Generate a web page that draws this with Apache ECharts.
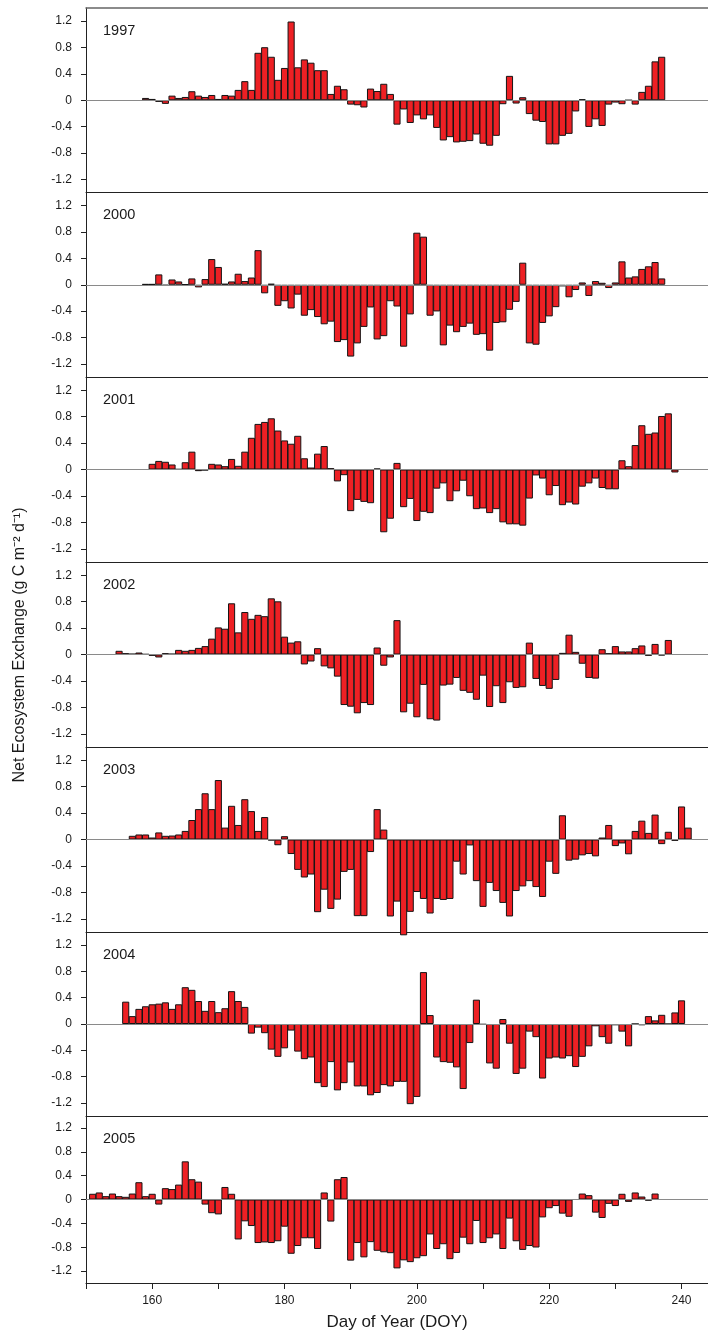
<!DOCTYPE html>
<html>
<head>
<meta charset="utf-8">
<script src="https://cdn.jsdelivr.net/npm/echarts@6/dist/echarts.min.js"></script>
<style>
html,body{margin:0;padding:0;background:#fff;}
#chart{width:708px;height:1335px;}
</style>
</head>
<body>
<div id="chart"></div>
<script>
// ---- data (Net Ecosystem Exchange, g C m-2 d-1), one value per day starting at given DOY ----
const years = ['1997','2000','2001','2002','2003','2004','2005'];
const startDay = [159, 159, 160, 155, 157, 156, 151];

const nee1997 = [0.035,0.02,-0.025,-0.055,0.07,0.035,0.05,0.137,0.07,0.05,0.08,0.02,0.08,0.07,0.157,0.29,0.157,0.72,0.805,0.66,0.31,0.49,1.195,0.50,0.62,0.57,0.456,0.456,0.096,0.22,0.167,-0.066,-0.076,-0.11,0.177,0.14,0.25,0.096,-0.37,-0.14,-0.345,-0.23,-0.29,-0.23,-0.42,-0.61,-0.56,-0.64,-0.63,-0.62,-0.52,-0.66,-0.69,-0.54,-0.06,0.37,-0.05,0.046,-0.21,-0.31,-0.33,-0.67,-0.67,-0.54,-0.51,-0.17,0.015,-0.405,-0.29,-0.39,-0.066,-0.035,-0.06,0,-0.066,0.127,0.22,0.59,0.66];

const nee2000 = [0.01,0.01,0.157,-0.015,0.08,0.05,0.005,0.096,-0.04,0.086,0.39,0.27,0.015,0.05,0.167,0.056,0.11,0.525,-0.13,0.015,-0.32,-0.25,-0.36,-0.15,-0.47,-0.385,-0.49,-0.60,-0.56,-0.87,-0.84,-1.09,-0.89,-0.64,-0.345,-0.83,-0.78,-0.25,-0.33,-0.94,-0.45,0.79,0.73,-0.47,-0.405,-0.92,-0.62,-0.72,-0.64,-0.59,-0.76,-0.75,-1.0,-0.58,-0.57,-0.38,-0.26,0.335,-0.89,-0.91,-0.58,-0.48,-0.34,-0.025,-0.19,-0.08,0.035,-0.17,0.056,0.03,-0.05,0.035,0.355,0.11,0.127,0.24,0.28,0.345,0.096];

const nee2001 = [0.086,0.13,0.117,0.076,0.005,0.11,0.27,-0.025,-0.015,0.086,0.076,0.05,0.16,0.056,0.27,0.48,0.69,0.72,0.775,0.59,0.44,0.39,0.51,0.17,0.03,0.24,0.355,0.02,-0.18,-0.086,-0.63,-0.46,-0.49,-0.51,0.015,-0.95,-0.745,0.1,-0.57,-0.445,-0.78,-0.64,-0.66,-0.29,-0.21,-0.48,-0.33,-0.17,-0.405,-0.60,-0.59,-0.66,-0.60,-0.80,-0.83,-0.83,-0.85,-0.44,-0.09,-0.137,-0.39,-0.25,-0.54,-0.50,-0.53,-0.26,-0.21,-0.137,-0.28,-0.30,-0.30,0.14,0.05,0.37,0.67,0.54,0.56,0.81,0.85,-0.045];

const nee2002 = [0.056,0.02,0.01,0.03,0.005,-0.02,-0.045,0.02,0.01,0.07,0.056,0.07,0.1,0.127,0.24,0.41,0.39,0.775,0.335,0.643,0.54,0.6,0.58,0.85,0.805,0.27,0.18,0.2,-0.15,-0.106,0.096,-0.18,-0.21,-0.335,-0.765,-0.79,-0.89,-0.735,-0.765,0.106,-0.17,-0.045,0.52,-0.875,-0.745,-0.95,-0.46,-0.98,-1.0,-0.47,-0.456,-0.355,-0.55,-0.58,-0.685,-0.32,-0.795,-0.48,-0.735,-0.42,-0.506,-0.496,0.18,-0.37,-0.476,-0.52,-0.385,0.025,0.3,0.04,-0.14,-0.355,-0.365,0.08,0.02,0.127,0.046,0.046,0.096,0.137,-0.02,0.16,-0.015,0.22];

const nee2003 = [0.056,0.076,0.076,0.03,0.107,0.056,0.06,0.076,0.13,0.295,0.46,0.70,0.46,0.90,0.18,0.51,0.22,0.61,0.43,0.13,0.34,-0.015,-0.087,0.05,-0.22,-0.46,-0.575,-0.53,-1.10,-0.76,-1.05,-0.91,-0.49,-0.46,-1.16,-1.16,-0.19,0.46,0.15,-1.165,-0.94,-1.45,-1.095,-0.795,-0.9,-1.12,-0.9,-0.915,-0.9,-0.336,-0.53,-0.09,-0.63,-1.02,-0.657,-0.78,-0.96,-1.165,-0.78,-0.71,-0.63,-0.72,-0.87,-0.336,-0.52,0.367,-0.32,-0.305,-0.24,-0.22,-0.255,0.03,0.22,-0.1,-0.06,-0.224,0.13,0.285,0.1,0.377,-0.07,0.117,-0.02,0.5,0.18];

const nee2004 = [0.34,0.12,0.23,0.27,0.30,0.31,0.33,0.23,0.30,0.56,0.52,0.35,0.20,0.35,0.18,0.24,0.50,0.35,0.26,-0.146,-0.055,-0.14,-0.39,-0.50,-0.37,-0.10,-0.42,-0.535,-0.51,-0.90,-0.96,-0.58,-1.01,-0.90,-0.585,-0.95,-0.95,-1.085,-1.05,-0.93,-0.95,-0.88,-0.88,-1.22,-1.11,0.79,0.136,-0.51,-0.58,-0.59,-0.66,-0.99,-0.29,0.37,-0.01,-0.60,-0.68,0.076,-0.30,-0.76,-0.68,-0.116,-0.20,-0.83,-0.525,-0.51,-0.525,-0.49,-0.655,-0.50,-0.34,-0.035,-0.20,-0.30,-0.02,-0.116,-0.34,0,-0.02,0.12,0.055,0.14,0,0.176,0.36];

const nee2005 = [0.096,0.118,0.056,0.10,0.056,0.045,0.10,0.29,0.056,0.096,-0.085,0.19,0.175,0.25,0.64,0.34,0.30,-0.085,-0.23,-0.25,0.21,0.096,-0.67,-0.366,-0.445,-0.73,-0.72,-0.73,-0.70,-0.456,-0.91,-0.78,-0.65,-0.65,-0.83,0.118,-0.37,0.34,0.377,-1.025,-0.73,-0.97,-0.715,-0.86,-0.885,-0.90,-1.155,-1.02,-1.05,-0.985,-0.95,-0.586,-0.83,-0.75,-1.0,-0.896,-0.64,-0.75,-0.36,-0.73,-0.65,-0.586,-0.83,-0.32,-0.70,-0.845,-0.78,-0.805,-0.30,-0.146,-0.11,-0.237,-0.29,0,0.10,0.073,-0.22,-0.31,-0.073,-0.11,0.096,-0.04,0.118,0.05,-0.02,0.10];

const neeSeries = [nee1997, nee2000, nee2001, nee2002, nee2003, nee2004, nee2005];

const yTickValues = [-1.2,-0.8,-0.4,0,0.4,0.8,1.2];
const xLabelValues = [160,180,200,220,240];

// ---- layout ----
const FONT = '"Liberation Sans", Arial, Helvetica, sans-serif';
const panelEdges = [8, 192.5, 377, 562, 747, 932, 1116, 1283];
const GL = 86, GW = 622, XMIN = 150, XMAX = 244;
const barW = GW / (XMAX - XMIN) + 0.5;
const n = years.length;

const grids = [], xAxes = [], yAxes = [], series = [], graphics = [];
for (let i = 0; i < n; i++) {
  const top = panelEdges[i], h = panelEdges[i + 1] - panelEdges[i];
  const last = i === n - 1;
  grids.push({left: GL, width: GW, top: top, height: h});
  xAxes.push({
    type: 'value', gridIndex: i, min: XMIN, max: XMAX, interval: 10,
    axisLine: {show: true, onZero: false, lineStyle: {color: '#222', width: 1}},
    axisTick: {show: last, length: 6, lineStyle: {color: '#222', width: 1}},
    axisLabel: last ? {
      show: true, customValues: xLabelValues, margin: 12,
      fontSize: 12, color: '#1a1a1a', fontFamily: FONT
    } : {show: false},
    splitLine: {show: false},
    name: last ? 'Day of Year (DOY)' : '',
    nameLocation: 'middle', nameGap: 31,
    nameTextStyle: {fontSize: 17, color: '#1a1a1a', fontFamily: FONT}
  });
  yAxes.push({
    type: 'value', gridIndex: i, min: -1.4, max: 1.4,
    axisLine: {show: true, lineStyle: {color: '#222', width: 1}},
    axisTick: {show: true, customValues: yTickValues, length: 5, lineStyle: {color: '#222', width: 1}},
    axisLabel: {show: true, customValues: yTickValues, margin: 14, fontSize: 12, color: '#1a1a1a', fontFamily: FONT},
    splitLine: {show: false}
  });
  const data = neeSeries[i].map((v, k) => [startDay[i] + k, v]);
  series.push({
    type: 'bar', xAxisIndex: i, yAxisIndex: i, data: data,
    barWidth: barW, clip: false,
    itemStyle: {color: '#ED2024', borderColor: '#141414', borderWidth: 1},
    markLine: {
      silent: true, symbol: ['none', 'none'], animation: false,
      label: {show: false},
      lineStyle: {color: '#8a8a8a', width: 1, type: 'solid'},
      data: [{yAxis: 0}]
    },
    z: 3
  });
  graphics.push({
    type: 'text', left: 103, top: top + 15,
    style: {text: years[i], fontSize: 14.5, fill: '#1a1a1a', fontFamily: FONT}
  });
}
// top border of first panel
xAxes.push({
  type: 'value', gridIndex: 0, position: 'top', min: XMIN, max: XMAX,
  axisLine: {show: true, onZero: false, lineStyle: {color: '#666', width: 1.5}},
  axisTick: {show: false}, axisLabel: {show: false}, splitLine: {show: false}
});

graphics.push({
  type: 'text', x: 20, y: 645, rotation: Math.PI / 2,
  style: {
    text: 'Net Ecosystem Exchange (g C m\u207B\u00B2 d\u207B\u00B9)',
    fontSize: 16, fill: '#1a1a1a', fontFamily: FONT,
    align: 'center', verticalAlign: 'middle'
  }
});

const chart = echarts.init(document.getElementById('chart'), null, {renderer: 'canvas'});
chart.setOption({
  animation: false,
  backgroundColor: '#ffffff',
  grid: grids, xAxis: xAxes, yAxis: yAxes, series: series,
  graphic: graphics
});
</script>
</body>
</html>
